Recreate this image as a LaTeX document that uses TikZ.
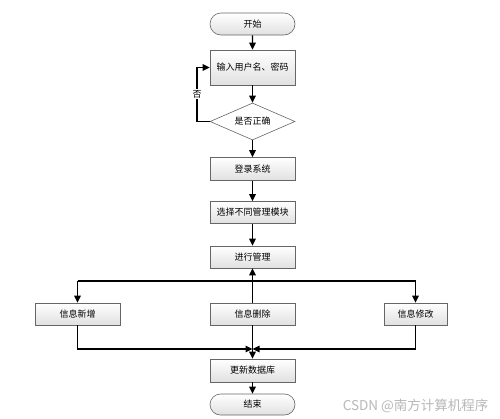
\documentclass[tikz,border=0pt]{standalone}
\usepackage{fontspec}
\newfontfamily\cjk{Noto Sans CJK SC}
\usetikzlibrary{shapes.geometric,shapes.misc,arrows.meta}
\begin{document}
\begin{tikzpicture}[x=1pt,y=-1pt,
  txt/.style={font=\cjk\fontsize{9}{10}\selectfont},
  box/.style={txt, draw=black!60, line width=0.6pt, top color=white, bottom color=black!12,
    minimum width=85pt, minimum height=22pt, inner sep=0pt, rectangle},
  term/.style={box, rounded rectangle},
  dec/.style={txt, diamond, draw=black!60, line width=0.6pt, fill=white, aspect=2.3,
    minimum width=85pt, minimum height=37pt, inner sep=0pt},
  ln/.style={line width=1.1pt, black},
  arr/.style={ln, -{Triangle[length=7pt,width=6.5pt]}}
]
\useasboundingbox[fill=white] (0,0) rectangle (500,418);

\node[term] (start) at (252.5,24) {开始};
\node[box, minimum height=35pt] (input) at (252.5,67.5) {输入用户名、密码};
\node[dec] (check) at (252.5,121.5) {是否正确};
\node[box, minimum height=23pt] (login) at (252.5,169) {登录系统};
\node[box] (select) at (252.5,212.5) {选择不同管理模块};
\node[box] (manage) at (252.5,257) {进行管理};
\node[box] (add) at (77.5,314) {信息新增};
\node[box] (del) at (252.5,314) {信息删除};
\node[box, minimum width=63pt] (mod) at (415.5,314) {信息修改};
\node[box, minimum height=23pt] (update) at (252.5,370.5) {更新数据库};
\node[term, minimum height=21pt] (end) at (252.5,404.5) {结束};

\coordinate (loop) at (197,121.5);
\coordinate (jl) at (77.5,281);
\coordinate (jr) at (415.5,281);
\coordinate (bl) at (77.5,349);
\coordinate (br) at (415.5,349);
\coordinate (bm) at (252.5,349);

\draw[arr] (start) -- (input);
\draw[arr] (input) -- (check);
\draw[arr] (check.west) -- (loop) |- (input.west);
\node[txt, fill=white, inner sep=1pt] (no) at (197,94) {否};
\draw[arr] (check) -- (login);
\draw[arr] (login) -- (select);
\draw[arr] (select) -- (manage);
\draw[arr] (del) -- (manage);
\draw[ln] (jl) -- (jr);
\draw[arr] (jl) -- (add);
\draw[arr] (jr) -- (mod);
\draw[arr] (add) -- (bl) -- (bm);
\draw[arr] (mod) -- (br) -- (bm);
\draw[arr] (del) -- (update);
\draw[arr] (update) -- (end);

\node[font=\cjk\fontsize{13.5}{15}\selectfont, text=black!28, anchor=east] (wm) at (492,406) {CSDN @南方计算机程序};
\end{tikzpicture}
\end{document}
